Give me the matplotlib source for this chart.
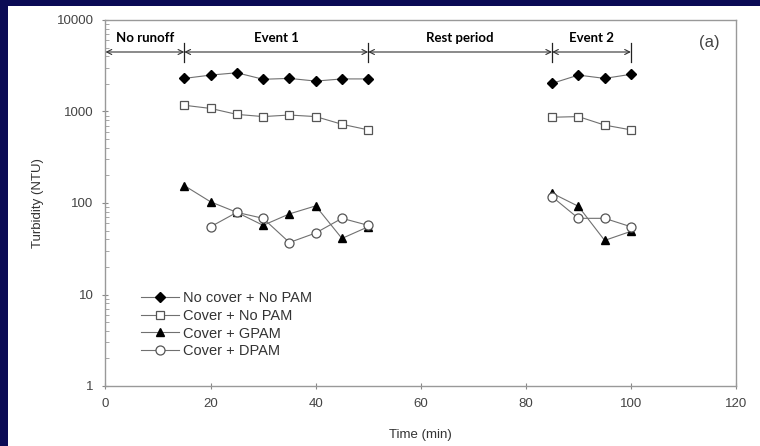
import numpy as np
import matplotlib
matplotlib.use("Agg")
import matplotlib.pyplot as plt
from matplotlib.patches import Rectangle
from matplotlib.ticker import LogLocator, FixedLocator, NullFormatter

# ---- data ----
time_e1 = [15, 20, 25, 30, 35, 40, 45, 50]
time_e2 = [85, 90, 95, 100]

nocover_nopam_e1 = [2300, 2500, 2650, 2250, 2300, 2150, 2270, 2270]
nocover_nopam_e2 = [2030, 2500, 2300, 2550]

cover_nopam_e1 = [1170, 1080, 930, 880, 915, 880, 725, 630]
cover_nopam_e2 = [865, 880, 710, 630]

cover_gpam_e1 = [155, 103, 79, 57, 76, 93, 41, 55]
cover_gpam_e2 = [128, 92, 39, 49]

time_dpam_e1 = [20, 25, 30, 35, 40, 45, 50]
cover_dpam_e1 = [55, 79, 68, 37, 47, 68, 57]
cover_dpam_e2 = [117, 68, 68, 55]

series_labels = ["No cover + No PAM", "Cover + No PAM", "Cover + GPAM", "Cover + DPAM"]

period_bounds = [0, 15, 50, 85, 100]
period_labels = ["No runoff", "Event 1", "Rest period", "Event 2"]

x_ticks = [0, 20, 40, 60, 80, 100, 120]
y_ticks = [1, 10, 100, 1000, 10000]
y_tick_labels = ["1", "10", "100", "1000", "10000"]

# ---- figure ----
W, H = 760, 446
fig = plt.figure(figsize=(W / 100, H / 100), dpi=100)
fig.patch.set_facecolor("#0b0b55")
bg = Rectangle((8 / W, 0), 1 - 8 / W, 1 - 6 / H, transform=fig.transFigure,
               facecolor="white", edgecolor="none", zorder=-10)
fig.patches.append(bg)

ax = fig.add_axes([105.5 / W, 1 - 386 / H, (736 - 105.5) / W, (386 - 20) / H])
ax.set_zorder(1)
ax.set_facecolor("white")
ax.set_yscale("log")
ax.set_xlim(0, 120)
ax.set_ylim(1, 10000)

line_c = "#707070"
tick_c = "#444444"

styles = [
    dict(marker="D", markersize=5.5, markerfacecolor="black", markeredgecolor="black"),
    dict(marker="s", markersize=6, markerfacecolor="white", markeredgecolor="#555555", markeredgewidth=0.9),
    dict(marker="^", markersize=6, markerfacecolor="black", markeredgecolor="black"),
    dict(marker="o", markersize=6.5, markerfacecolor="white", markeredgecolor="#555555", markeredgewidth=0.9),
]

data_pairs = [
    [(time_e1, nocover_nopam_e1), (time_e2, nocover_nopam_e2)],
    [(time_e1, cover_nopam_e1), (time_e2, cover_nopam_e2)],
    [(time_e1, cover_gpam_e1), (time_e2, cover_gpam_e2)],
    [(time_dpam_e1, cover_dpam_e1), (time_e2, cover_dpam_e2)],
]

handles = []
for lab, st, pairs in zip(series_labels, styles, data_pairs):
    for i, (xs, ys) in enumerate(pairs):
        h, = ax.plot(xs, ys, color=line_c, linewidth=0.8, label=lab if i == 0 else None, **st)
        if i == 0:
            handles.append(h)

leg = ax.legend(handles=handles, loc="lower left", bbox_to_anchor=(0.035, 0.04), frameon=False,
                handlelength=2.6, handletextpad=0.3, labelspacing=0.25,
                prop={"family": "Liberation Sans", "size": 10.5})
for t in leg.get_texts():
    t.set_color("#333333")

# ---- period annotations ----
trans = ax.get_xaxis_transform()
y_arrow = (386 - 52) / 366
y_bar0 = (386 - 62) / 366
y_bar1 = (386 - 43) / 366
y_text = (386 - 38) / 366
for a, b, lab in zip(period_bounds[:-1], period_bounds[1:], period_labels):
    ax.annotate("", xy=(b, y_arrow), xytext=(a, y_arrow), xycoords=trans, textcoords=trans,
                arrowprops=dict(arrowstyle="<->", color="#333333", lw=0.8, shrinkA=0, shrinkB=0,
                                mutation_scale=9))
    ax.text((a + b) / 2, y_text, lab, transform=trans, ha="center", va="center",
            fontsize=9.5, fontweight="bold", family="Lato", color="black")
for xb in period_bounds[1:]:
    ax.plot([xb, xb], [y_bar0, y_bar1], transform=trans, color="#222222", lw=0.9)

ax.text(115, (386 - 43) / 366, "(a)", transform=trans, ha="center", va="center",
        fontsize=12, family="Liberation Sans", color="#444444")

# ---- axes styling ----
ax.xaxis.set_major_locator(FixedLocator(x_ticks))
ax.set_xticklabels([str(v) for v in x_ticks])
ax.yaxis.set_major_locator(FixedLocator(y_ticks))
ax.set_yticklabels(y_tick_labels)
ax.yaxis.set_minor_locator(LogLocator(base=10, subs=np.arange(2, 10)))
ax.yaxis.set_minor_formatter(NullFormatter())
ax.tick_params(axis="both", which="major", direction="inout", length=5, width=0.8,
               colors="#888888", labelcolor=tick_c, labelsize=9.5, pad=6)
ax.tick_params(axis="y", which="minor", direction="in", length=3, width=0.6, colors="#999999")
for lab in ax.get_xticklabels() + ax.get_yticklabels():
    lab.set_family("Liberation Sans")
for s in ax.spines.values():
    s.set_color("#999999")
    s.set_linewidth(1.0)

ax.set_xlabel("Time (min)", fontsize=9.5, family="Liberation Sans", color="#333333", labelpad=14)
ax.set_ylabel("Turbidity (NTU)", fontsize=9.5, family="Liberation Sans", color="#333333", labelpad=9)

fig.savefig("out.png", dpi=100, facecolor=fig.get_facecolor())
